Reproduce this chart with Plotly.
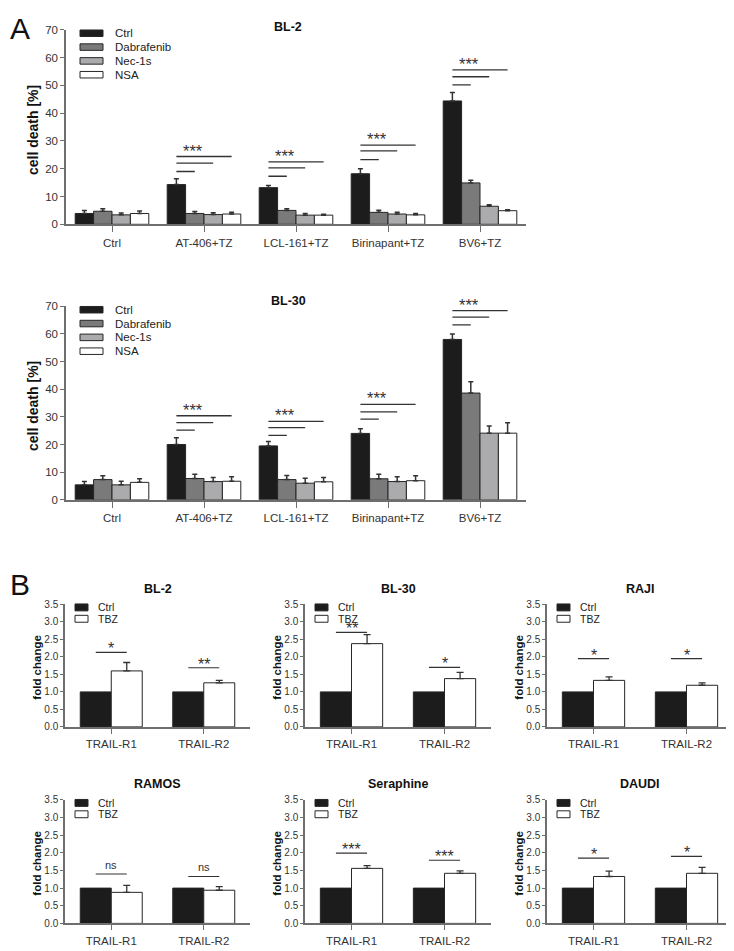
import plotly.graph_objects as go

# ---------------- DATA ----------------
a_categories = ["Ctrl", "AT-406+TZ", "LCL-161+TZ", "Birinapant+TZ", "BV6+TZ"]
a_series = ["Ctrl", "Dabrafenib", "Nec-1s", "NSA"]

bl2_ctrl = [3.9, 14.3, 13.2, 18.2, 44.4]
bl2_dab = [4.7, 3.9, 5.0, 4.3, 14.9]
bl2_nec = [3.4, 3.5, 3.3, 3.7, 6.5]
bl2_nsa = [3.9, 3.7, 3.3, 3.4, 4.9]
bl2_ctrl_err = [1.1, 2.1, 0.8, 1.8, 3.0]
bl2_dab_err = [0.9, 0.7, 0.6, 0.8, 1.0]
bl2_nec_err = [0.7, 0.7, 0.6, 0.6, 0.5]
bl2_nsa_err = [0.9, 0.6, 0.3, 0.5, 0.3]
bl2_sig_lines = [None, [19.0, 22.0, 24.4], [17.3, 20.3, 22.5], [23.3, 26.4, 28.5], [50.2, 53.1, 55.6]]

bl30_ctrl = [5.4, 20.0, 19.5, 24.0, 58.0]
bl30_dab = [7.3, 7.7, 7.3, 7.6, 38.6]
bl30_nec = [5.4, 6.6, 6.0, 6.6, 24.1]
bl30_nsa = [6.3, 6.7, 6.5, 6.9, 24.1]
bl30_ctrl_err = [1.2, 2.4, 1.6, 1.7, 2.0]
bl30_dab_err = [1.4, 1.5, 1.5, 1.6, 4.1]
bl30_nec_err = [1.3, 1.5, 1.8, 1.7, 2.6]
bl30_nsa_err = [1.3, 1.6, 1.6, 1.8, 3.8]
bl30_sig_lines = [None, [25.2, 27.9, 30.4], [23.3, 26.1, 28.4], [29.2, 31.8, 34.5], [63.3, 66.1, 68.4]]

a_sig_label = "***"

b_categories = ["TRAIL-R1", "TRAIL-R2"]
b_series = ["Ctrl", "TBZ"]
b_cell_lines = ["BL-2", "BL-30", "RAJI", "RAMOS", "Seraphine", "DAUDI"]
b_ctrl = [1.0, 1.0]
b_tbz = {
    "BL-2": [1.60, 1.26],
    "BL-30": [2.38, 1.38],
    "RAJI": [1.33, 1.19],
    "RAMOS": [0.88, 0.94],
    "Seraphine": [1.56, 1.42],
    "DAUDI": [1.33, 1.42],
}
b_tbz_err = {
    "BL-2": [0.24, 0.07],
    "BL-30": [0.26, 0.18],
    "RAJI": [0.10, 0.07],
    "RAMOS": [0.20, 0.10],
    "Seraphine": [0.08, 0.07],
    "DAUDI": [0.15, 0.17],
}
b_sig_labels = {
    "BL-2": ["*", "**"],
    "BL-30": ["**", "*"],
    "RAJI": ["*", "*"],
    "RAMOS": ["ns", "ns"],
    "Seraphine": ["***", "***"],
    "DAUDI": ["*", "*"],
}
b_sig_y = {
    "BL-2": [2.13, 1.69],
    "BL-30": [2.70, 1.70],
    "RAJI": [1.95, 1.95],
    "RAMOS": [1.40, 1.33],
    "Seraphine": [1.99, 1.79],
    "DAUDI": [1.85, 1.90],
}

# ---------------- STYLE ----------------
W, H = 734, 951
OFF = 8  # page body margin offset
FONT = "Liberation Sans, Arial, sans-serif"
AXC = "#6e6e6e"
TXT = "#2a2a2a"
a_colors = ["#1c1c1c", "#7a7a7a", "#ababad", "#ffffff"]
b_colors = ["#1c1c1c", "#ffffff"]


def xp(px):
    return (px - OFF) / W


def yp(py):
    return 1 - (py - OFF) / H


fig = go.Figure()
layout = dict(
    width=W, height=H, margin=dict(l=0, r=0, t=0, b=0),
    paper_bgcolor="white", plot_bgcolor="white",
    showlegend=False, barmode="group",
    font=dict(family=FONT, color=TXT),
)
shapes = []
annotations = []

# panel letters
annotations.append(dict(text="A", x=0, y=1, xref="paper", yref="paper",
                        xanchor="left", yanchor="top", yshift=4, showarrow=False,
                        font=dict(size=30, family=FONT, color="#111")))
annotations.append(dict(text="B", x=0, y=yp(567), xref="paper", yref="paper",
                        xanchor="left", yanchor="top", showarrow=False,
                        font=dict(size=30, family=FONT, color="#111")))


def axis_common():
    return dict(showline=True, linecolor=AXC, linewidth=1.5, ticks="outside",
                tickcolor=AXC, showgrid=False, zeroline=False,
                tickfont=dict(family=FONT, color="#333"))


# ---------------- PANEL A ----------------
a_panels = [
    ("BL-2", [bl2_ctrl, bl2_dab, bl2_nec, bl2_nsa],
     [bl2_ctrl_err, bl2_dab_err, bl2_nec_err, bl2_nsa_err], bl2_sig_lines, (24, 221), 21),
    ("BL-30", [bl30_ctrl, bl30_dab, bl30_nec, bl30_nsa],
     [bl30_ctrl_err, bl30_dab_err, bl30_nec_err, bl30_nsa_err], bl30_sig_lines, (304, 500), 299),
]
ax_x0, ax_x1 = 66, 526
bw = 0.2
for k, (title, vals, errs, sigs, (ytop, ybot), title_y) in enumerate(a_panels):
    n = k + 1
    xa = "x" if n == 1 else f"x{n}"
    ya = "y" if n == 1 else f"y{n}"
    xs = list(range(len(a_categories)))
    for j, name in enumerate(a_series):
        fig.add_trace(go.Bar(
            x=xs, y=vals[j], name=name, xaxis=xa, yaxis=ya,
            width=bw, offset=-0.4 + j * bw,
            marker=dict(color=a_colors[j], line=dict(color="#262626", width=1)),
            error_y=dict(type="data", symmetric=False, array=errs[j],
                         arrayminus=[0] * len(xs), color="#333", thickness=1.5, width=2.5),
        ))
    xkey = "xaxis" if n == 1 else f"xaxis{n}"
    ykey = "yaxis" if n == 1 else f"yaxis{n}"
    layout[xkey] = dict(axis_common(), domain=[xp(ax_x0), xp(ax_x1)], anchor=ya,
                        range=[-0.5, len(a_categories) - 0.5], tickvals=xs,
                        ticktext=a_categories, ticklen=6, ticklabelstandoff=1)
    layout[xkey]["tickfont"]["size"] = 11.5
    layout[ykey] = dict(axis_common(), domain=[yp(ybot), yp(ytop)], anchor=xa,
                        range=[0, 70], dtick=10, ticklen=4)
    layout[ykey]["tickfont"]["size"] = 11.5
    annotations.append(dict(text=f"<b>{title}</b>", x=xp(288), y=yp(title_y), xref="paper",
                            yref="paper", showarrow=False, xanchor="center", yanchor="middle",
                            font=dict(size=12.5, family=FONT, color="#111")))
    annotations.append(dict(text="<b>cell death [%]</b>", x=xp(33), y=yp((ytop + ybot) / 2 + 3),
                            xref="paper", yref="paper", showarrow=False, textangle=-90,
                            xanchor="center", yanchor="middle",
                            font=dict(size=14, family=FONT, color="#111")))
    for j, name in enumerate(a_series):
        cy = ytop + 3.5 + 14 * j
        shapes.append(dict(type="rect", xref="paper", yref="paper",
                           x0=xp(ax_x0 + 14), x1=xp(ax_x0 + 37),
                           y0=yp(cy - 3.3), y1=yp(cy + 3.3),
                           fillcolor=a_colors[j], line=dict(color="#262626", width=1)))
        annotations.append(dict(text=name, x=xp(ax_x0 + 47), y=yp(cy), xref="paper",
                                yref="paper", showarrow=False, xanchor="left",
                                yanchor="middle", font=dict(size=11.5, family=FONT, color="#222")))
    for i, lines in enumerate(sigs):
        if lines is None:
            continue
        c0 = i - 0.4 + bw / 2
        for m, yv in enumerate(lines):
            c1 = i - 0.4 + bw / 2 + (m + 1) * bw
            shapes.append(dict(type="line", xref=xa, yref=ya, x0=c0, x1=c1, y0=yv, y1=yv,
                               line=dict(color="#333", width=1.3)))
        annotations.append(dict(text=a_sig_label, x=i - 0.4 + 1.5 * bw - 0.02, y=lines[-1],
                                xref=xa, yref=ya, showarrow=False, xanchor="center",
                                yanchor="bottom", yshift=-5,
                                font=dict(size=16.5, family=FONT, color="#333")))

# ---------------- PANEL B ----------------
b_cols = [(65, 250), (305, 491), (547, 733)]
b_rows = [(606, 730), (804, 929)]
bwb = 0.335
for idx, cl in enumerate(b_cell_lines):
    r, c = divmod(idx, 3)
    n = 3 + idx
    xa, ya = f"x{n}", f"y{n}"
    x0, x1 = b_cols[c]
    ytop, ybot = b_rows[r]
    xs = list(range(len(b_categories)))
    series_vals = [b_ctrl, b_tbz[cl]]
    for j, name in enumerate(b_series):
        tr = dict(x=xs, y=series_vals[j], name=name, xaxis=xa, yaxis=ya,
                  width=bwb, offset=-bwb + j * bwb,
                  marker=dict(color=b_colors[j], line=dict(color="#262626", width=1)))
        if j == 1:
            tr["error_y"] = dict(type="data", symmetric=False, array=b_tbz_err[cl],
                                 arrayminus=[0] * len(xs), color="#333", thickness=1.3, width=3.5)
        fig.add_trace(go.Bar(**tr))
    layout[f"xaxis{n}"] = dict(axis_common(), domain=[xp(x0), xp(x1)], anchor=ya,
                               range=[-0.5, len(b_categories) - 0.5], tickvals=xs,
                               ticktext=b_categories, ticklen=5, ticklabelstandoff=1)
    layout[f"xaxis{n}"]["tickfont"]["size"] = 11.5
    layout[f"yaxis{n}"] = dict(axis_common(), domain=[yp(ybot), yp(ytop)], anchor=xa,
                               range=[0, 3.5], dtick=0.5, tickformat=".1f", ticklen=3)
    layout[f"yaxis{n}"]["tickfont"]["size"] = 10
    annotations.append(dict(text=f"<b>{cl}</b>", x=xp((x0 + x1) / 2), y=yp(ytop - 16),
                            xref="paper", yref="paper", showarrow=False, xanchor="center",
                            yanchor="middle", font=dict(size=12.5, family=FONT, color="#111")))
    annotations.append(dict(text="<b>fold change</b>", x=xp(x0 - 28), y=yp((ytop + ybot) / 2 + 2),
                            xref="paper", yref="paper", showarrow=False, textangle=-90,
                            xanchor="center", yanchor="middle",
                            font=dict(size=11.5, family=FONT, color="#111")))
    for j, name in enumerate(b_series):
        cy = ytop + 3 + 11.5 * j
        shapes.append(dict(type="rect", xref="paper", yref="paper",
                           x0=xp(x0 + 10), x1=xp(x0 + 23), y0=yp(cy - 3.5), y1=yp(cy + 3.5),
                           fillcolor=b_colors[j], line=dict(color="#262626", width=1)))
        annotations.append(dict(text=name, x=xp(x0 + 31), y=yp(cy), xref="paper", yref="paper",
                                showarrow=False, xanchor="left", yanchor="middle",
                                font=dict(size=10.5, family=FONT, color="#222")))
    for i in xs:
        yv = b_sig_y[cl][i]
        lab = b_sig_labels[cl][i]
        shapes.append(dict(type="line", xref=xa, yref=ya, x0=i - bwb / 2, x1=i + bwb / 2,
                           y0=yv, y1=yv, line=dict(color="#333", width=1.2)))
        annotations.append(dict(text=lab, x=i, y=yv, xref=xa, yref=ya, showarrow=False,
                                xanchor="center", yanchor="bottom",
                                yshift=(1 if lab == "ns" else -7),
                                font=dict(size=(11 if lab == "ns" else 16), family=FONT,
                                          color="#333")))

layout["shapes"] = shapes
layout["annotations"] = annotations
fig.update_layout(**layout)
fig.write_html("out.html")
